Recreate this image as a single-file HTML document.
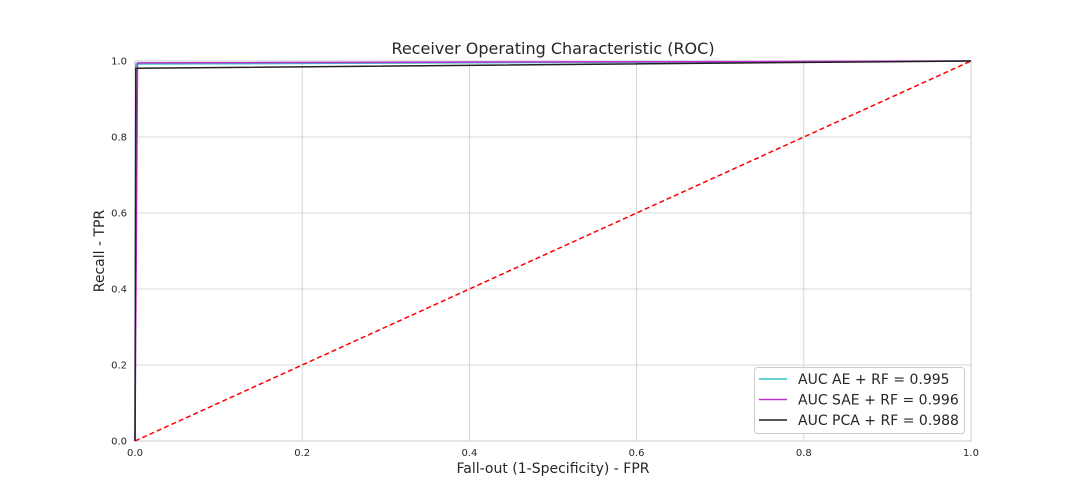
<!DOCTYPE html>
<html><head><meta charset="utf-8"><style>
body{margin:0;background:#fff;font-family:"Liberation Sans","DejaVu Sans",sans-serif}
svg{display:block}
</style></head><body>
<svg id="chart" width="1080" height="504" font-family="'DejaVu Sans','Liberation Sans',sans-serif"></svg>
<script>
const xTicks=[0,0.2,0.4,0.6,0.8,1.0];
const yTicks=[0,0.2,0.4,0.6,0.8,1.0];
const tickLabels=["0.0","0.2","0.4","0.6","0.8","1.0"];
const seriesNames=["AUC AE + RF = 0.995","AUC SAE + RF = 0.996","AUC PCA + RF = 0.988"];
const seriesColors=["#2ec4c4","#c030d0","#222222"];
const aeFpr=[0,0.001,1];
const aeTpr=[0,0.992,1];
const saeFpr=[0,0.003,1];
const saeTpr=[0,0.995,1];
const pcaFpr=[0,0.001,1];
const pcaTpr=[0,0.981,1];
const diagX=[0,1];
const diagY=[0,1];

const L=135,R=971,T=61,B=441;
const sx=v=>L+v*(R-L), sy=v=>B-v*(B-T);
const svg=document.getElementById('chart');
const NS='http://www.w3.org/2000/svg';
function mk(tag,attrs,parent){const e=document.createElementNS(NS,tag);for(const k in attrs)e.setAttribute(k,attrs[k]);(parent||svg).appendChild(e);return e;}

xTicks.forEach((v,i)=>{
  const g=mk('line',{x1:sx(v),x2:sx(v),y1:T,y2:B,stroke:'#cccccc','stroke-width':0.8});
  
  
  const t=mk('text',{x:sx(v),y:B+15,'text-anchor':'middle','font-size':10,fill:'#262626'});
  t.textContent=tickLabels[i];
  
  
});
yTicks.forEach((v,i)=>{
  const g=mk('line',{x1:L,x2:R,y1:sy(v),y2:sy(v),stroke:'#cccccc','stroke-width':0.8});
  
  
  const t=mk('text',{x:L-8,y:sy(v)+3.5,'text-anchor':'end','font-size':10,fill:'#262626'});
  t.textContent=tickLabels[i];
  
  
});
const frame=mk('rect',{x:L,y:T,width:R-L,height:B-T,fill:'none',stroke:'#cccccc','stroke-width':1});



const diag=mk('polyline',{points:diagX.map((v,i)=>sx(v)+','+sy(diagY[i])).join(' '),fill:'none',stroke:'#ff0000','stroke-width':1.5,'stroke-dasharray':'5,3'});



const series=[[aeFpr,aeTpr,'ae-roc-curve'],[saeFpr,saeTpr,'sae-roc-curve'],[pcaFpr,pcaTpr,'pca-roc-curve']];
series.forEach((s,k)=>{
  const p=mk('polyline',{points:s[0].map((v,i)=>sx(v)+','+sy(s[1][i])).join(' '),fill:'none',stroke:seriesColors[k],'stroke-width':1.5});
  
  
});

const title=mk('text',{x:(L+R)/2,y:54,'text-anchor':'middle','font-size':16,fill:'#262626'});
title.textContent='Receiver Operating Characteristic (ROC)';


const xt=mk('text',{x:(L+R)/2,y:473,'text-anchor':'middle','font-size':14,fill:'#262626'});
xt.textContent='Fall-out (1-Specificity) - FPR';


const yt=mk('text',{x:104,y:(T+B)/2,'text-anchor':'middle','font-size':14,fill:'#262626',transform:'rotate(-90 104 '+((T+B)/2)+')'});
yt.textContent='Recall - TPR';



const lg=mk('g',{});


mk('rect',{x:754.5,y:367.5,width:210,height:66,rx:3,fill:'#fff',stroke:'#cccccc','stroke-width':1,'fill-opacity':0.8},lg);
seriesNames.forEach((n,i)=>{
  const y=379+i*20.5;
  const ln=mk('line',{x1:759,x2:787,y1:y,y2:y,stroke:seriesColors[i],'stroke-width':1.5},lg);
  
  
  const t=mk('text',{x:798,y:y+5,'font-size':14,fill:'#262626'},lg);
  t.textContent=n;
  
  
});
</script>
</body></html>
